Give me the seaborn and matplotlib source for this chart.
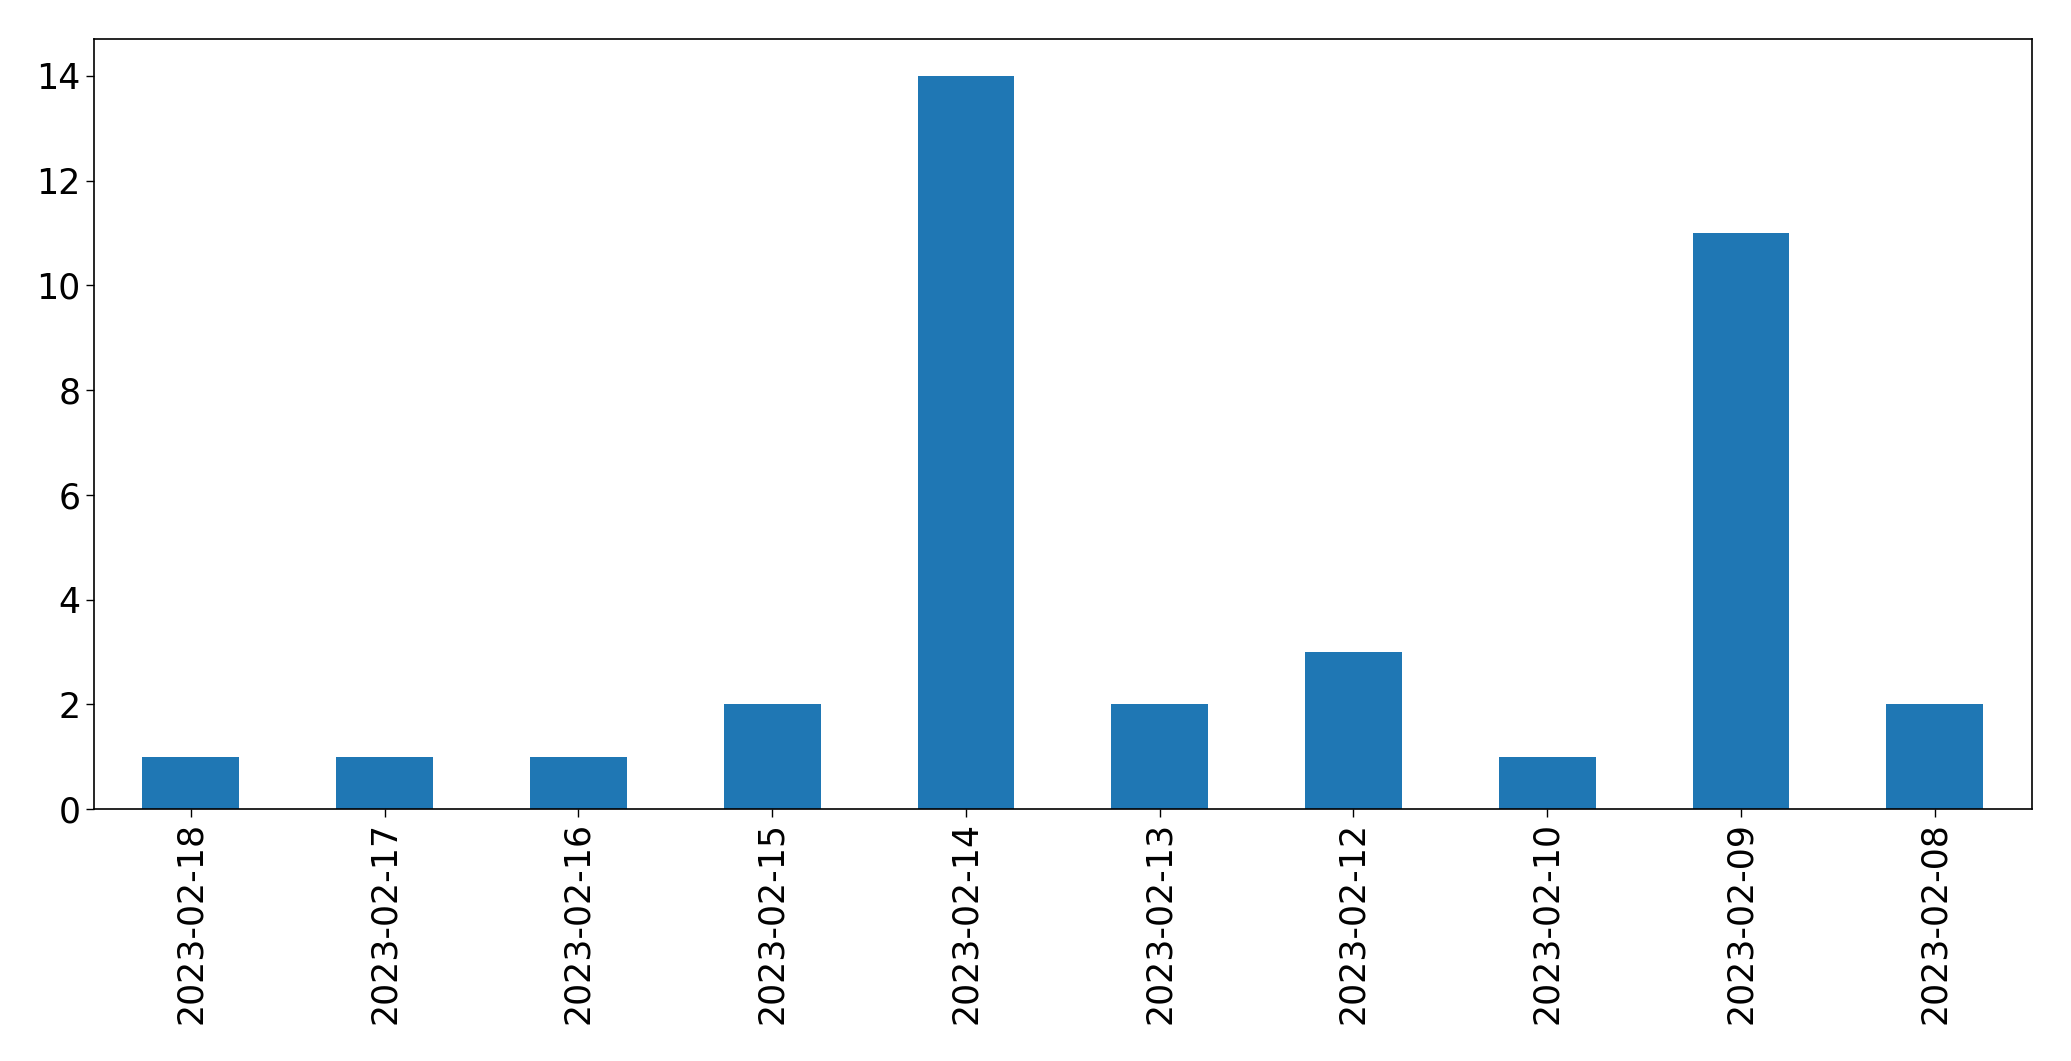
import pandas as pd
import matplotlib
matplotlib.use("Agg")
import matplotlib.pyplot as plt
import seaborn as sns

# counts per day
dates = ["2023-02-18", "2023-02-17", "2023-02-16", "2023-02-15", "2023-02-14",
         "2023-02-13", "2023-02-12", "2023-02-10", "2023-02-09", "2023-02-08"]
counts = [1, 1, 1, 2, 14, 2, 3, 1, 11, 2]

df = pd.DataFrame({"date": dates, "count": counts})

sns.set_style("white")
plt.rcParams['font.family'] = ['DejaVu Sans']

fig, ax = plt.subplots(figsize=(20.71, 10.61), dpi=100)
sns.barplot(data=df, x="date", y="count", color="#1f77b4", saturation=1,
            width=0.5, linewidth=0, ax=ax)

ax.set_xlim(-0.5, len(dates) - 0.5)
ax.set_ylim(0, 14.7)
ax.set_yticks(range(0, 15, 2))
ax.set_xlabel("")
ax.set_ylabel("")
ax.tick_params(axis="both", labelsize=25, length=6, width=1, color="black",
               labelcolor="black", left=True, bottom=True)
ax.tick_params(axis="x", labelrotation=90)
for s in ax.spines.values():
    s.set_color("black")
    s.set_linewidth(1.2)

plt.subplots_adjust(left=0.0454, right=0.981, top=0.963, bottom=0.2375)
plt.savefig("out.png", dpi=100)
